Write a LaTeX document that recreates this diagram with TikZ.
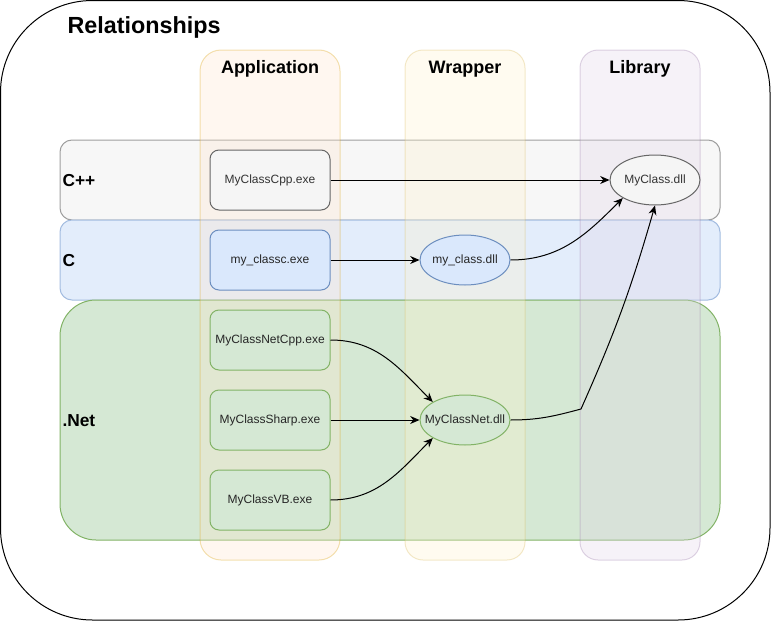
\documentclass[tikz,border=0pt]{standalone}
\usepackage{fontspec}
\setmainfont{Liberation Sans}
\usepackage{tikz}
\usetikzlibrary{shapes,arrows,arrows.meta}

% lane and column colours
\definecolor{cppfill}{HTML}{F7F7F7}
\definecolor{cppline}{HTML}{9E9E9E}
\definecolor{cfill}{HTML}{E3EDFB}
\definecolor{cline}{HTML}{A3BCE0}
\definecolor{netfill}{HTML}{D5E8D4}
\definecolor{netline}{HTML}{82B366}
\definecolor{appfill}{HTML}{FFE6CC}
\definecolor{appline}{HTML}{D79B00}
\definecolor{wrapfill}{HTML}{FFF2CC}
\definecolor{wrapline}{HTML}{D6B656}
\definecolor{libfill}{HTML}{E1D5E7}
\definecolor{libline}{HTML}{9673A6}
% node colours
\definecolor{greyfill}{HTML}{F5F5F5}
\definecolor{greyline}{HTML}{666666}
\definecolor{greytext}{HTML}{333333}
\definecolor{bluefill}{HTML}{DAE8FC}
\definecolor{blueline}{HTML}{6C8EBF}

\tikzset{
  exebox/.style={rectangle,rounded corners=6.75pt,minimum width=90pt,minimum height=45pt,
    inner sep=0pt,font=\fontsize{9}{11}\selectfont,text=black!85},
  dllnode/.style={ellipse,minimum width=67.5pt,minimum height=37.5pt,inner xsep=-8pt,inner ysep=0pt,
    font=\fontsize{9}{11}\selectfont,text=black!85},
  lanelabel/.style={anchor=base west,inner sep=0pt,font=\fontsize{13}{15}\selectfont\bfseries},
  coltitle/.style={anchor=base,inner sep=0pt,font=\fontsize{13.5}{16}\selectfont\bfseries},
  link/.style={->,>={Stealth[length=7pt,width=6pt]},black}
}

\begin{document}
\begin{tikzpicture}[x=0.75pt,y=-0.75pt,line width=0.75pt]
\useasboundingbox (0,0) rectangle (771,621);

% to draw outer frame
\draw [rounded corners=69pt] (0.5,0.5) rectangle (770,620);
\node [anchor=base west,inner sep=0pt,font=\fontsize{17.5}{20}\selectfont\bfseries] (title) at (67,33) {Relationships};

% to draw lanes
\draw [fill=cppfill,draw=cppline,rounded corners=9pt] (60,140) rectangle (720,220);
\draw [fill=cfill,draw=cline,rounded corners=9pt] (60,220) rectangle (720,300);
\draw [fill=netfill,draw=netline,rounded corners=27pt] (60,300) rectangle (720,540);

% to draw columns
\draw [opacity=0.3,fill=appfill,draw=appline,rounded corners=15.75pt] (200,50) rectangle (340,560);
\draw [opacity=0.3,fill=wrapfill,draw=wrapline,rounded corners=13.5pt] (405,50) rectangle (525,560);
\draw [opacity=0.3,fill=libfill,draw=libline,rounded corners=13.5pt] (580,50) rectangle (700,560);

% to write column titles
\node [coltitle] (appTitle) at (270,73) {Application};
\node [coltitle] (wrapTitle) at (465,73) {Wrapper};
\node [coltitle] (libTitle) at (640,73) {Library};

% to write lane labels
\node [lanelabel] (cppLabel) at (62,186) {C++};
\node [lanelabel] (cLabel) at (62,266) {C};
\node [lanelabel] (netLabel) at (62,426) {.Net};

% Application side
\node [exebox,fill=greyfill,draw=greyline,text=greytext] (cppExe) at (270,180) {MyClassCpp.exe};
\node [exebox,fill=bluefill,draw=blueline] (cExe) at (270,260) {my\_classc.exe};
\node [exebox,fill=netfill,draw=netline] (netCppExe) at (270,340) {MyClassNetCpp.exe};
\node [exebox,fill=netfill,draw=netline] (sharpExe) at (270,420) {MyClassSharp.exe};
\node [exebox,fill=netfill,draw=netline] (vbExe) at (270,500) {MyClassVB.exe};

% Wrapper side
\node [dllnode,fill=bluefill,draw=blueline] (cDll) at (465,260) {my\_class.dll};
\node [dllnode,fill=netfill,draw=netline] (netDll) at (465,420) {MyClassNet.dll};

% Library side
\node [dllnode,fill=greyfill,draw=greyline,text=greytext] (libDll) at (655,180) {MyClass.dll};

% to draw arrows
\coordinate (bend) at (581,409);
\draw [link] (cppExe.east) -- (libDll.west);
\draw [link] (cExe.east) -- (cDll.west);
\draw [link] (cDll.east) to[out=0,in=225] (libDll.south west);
\draw [link] (netCppExe.east) to[out=0,in=135] (netDll.north west);
\draw [link] (sharpExe.east) -- (netDll.west);
\draw [link] (vbExe.east) to[out=0,in=225] (netDll.south west);
\draw [link] (netDll.east) to[out=0,in=195] (bend) to[out=66,in=-106] (libDll.south);
\end{tikzpicture}
\end{document}
